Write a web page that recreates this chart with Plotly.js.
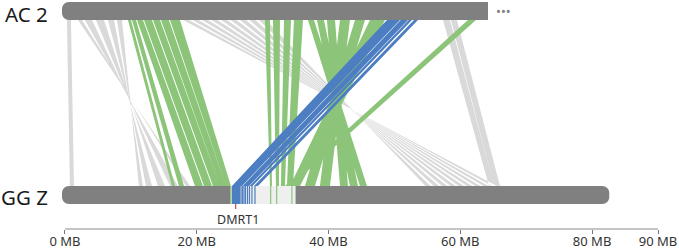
<!DOCTYPE html>
<html><head><meta charset="utf-8">
<script src="https://cdn.plot.ly/plotly-3.0.1.min.js"></script>
<style>html,body{margin:0;padding:0;background:#fff;}#chart{width:679px;height:249px;}</style>
</head><body><div id="chart"></div>
<script>
// ---- data (MB) ----
const tickValues = [0, 20, 40, 60, 80, 90];
const tickLabels = ['0 MB', '20 MB', '40 MB', '60 MB', '80 MB', '90 MB'];
const chromNames = ['AC 2', 'GG Z'];
const chromStart = [-0.45, -0.45];
const chromEnd = [64.2, 82.6];
const highlightRange = [25.1, 35.0];
const markerNames = ['DMRT1'];
const markerPos = [25.9];

const linkGroup = [
  'other','other','other','other','other','other',
  'other','other','other','other','other','other','other','other','other',
  'other','other',
  'z','z','z','z','z','z','z','z','z','z','z','z','z','z','z','z','z','z',
  'dmrt','dmrt','dmrt','dmrt'
];
const acStart = [0.30, 1.97, 3.04, 4.70, 6.53, 7.89,
  17.91, 19.35, 20.79, 22.23, 23.68, 25.12, 26.56, 28.00, 29.44,
  57.37, 58.58,
  9.56, 10.17, 10.93, 11.99, 13.36, 14.57, 15.94, 30.35, 31.57, 33.24, 34.75, 36.88, 38.25, 39.76, 41.74, 44.01, 46.29, 61.16,
  48.87, 50.95, 52.17, 52.97];
const acEnd = [0.91, 2.58, 4.10, 5.92, 7.44, 8.65,
  18.82, 20.26, 21.70, 23.14, 24.59, 26.03, 27.47, 28.91, 30.50,
  58.43, 59.49,
  10.02, 10.78, 11.84, 13.20, 14.42, 15.78, 17.45, 31.11, 32.63, 34.30, 36.12, 37.79, 39.31, 40.98, 43.25, 45.53, 48.57, 62.38,
  50.84, 52.06, 52.66, 53.57];
const ggStart = [0.76, 18.97, 17.15, 15.18, 13.20, 11.84,
  65.56, 64.30, 63.04, 61.78, 60.53, 59.27, 58.01, 56.75, 55.49,
  64.35, 65.11,
  16.24, 17.30, 19.73, 21.10, 22.46, 23.52, 24.43, 31.11, 32.02, 32.78, 33.69, 44.77, 43.25, 41.74, 38.70, 36.42, 34.15, 33.39,
  25.35, 26.95, 28.02, 28.68];
const ggEnd = [1.37, 18.36, 15.94, 14.11, 12.29, 11.23,
  64.81, 63.55, 62.29, 61.03, 59.77, 58.51, 57.25, 55.99, 54.73,
  65.11, 66.02,
  16.69, 18.06, 20.94, 22.31, 23.52, 24.43, 25.19, 31.42, 32.48, 33.39, 34.60, 45.83, 44.47, 42.95, 40.22, 37.94, 35.67, 34.30,
  26.86, 27.93, 28.46, 29.29];
const footBlue = [25.42, 25.57, 25.72, 25.88, 26.03, 26.18, 26.33, 26.48, 26.71, 26.94, 27.17, 27.39, 27.70, 28.00, 28.38, 28.84];
const footGreen = [25.18, 31.22, 32.13, 34.45];

// ---- style / layout ----
const colors = { other: '#d9d9d9', z: '#8cc57a', dmrt: '#4d7ec1' };
const groupOrder = ['other', 'z', 'dmrt'];
const FONT = 'Noto Sans, Open Sans, sans-serif';
const W = 679, H = 249, ML = 61, MR = 21, MT = 0, MB = 20;
const XMIN = -0.6, XMAX = 90;
const pxPerMB = (W - ML - MR) / (XMAX - XMIN);
const TOP = [2, 20], BOT = [186, 204]; // track y extents (plot px units)
const RX = 7 / pxPerMB, RY = 7;

const traces = groupOrder.map(g => {
  const xs = [], ys = [];
  linkGroup.forEach((lg, i) => {
    if (lg !== g) return;
    xs.push(acStart[i], acEnd[i], ggEnd[i], ggStart[i], acStart[i], null);
    ys.push(TOP[1], TOP[1], BOT[0], BOT[0], TOP[1], null);
  });
  return { type: 'scatter', mode: 'lines', x: xs, y: ys, fill: 'toself', fillcolor: colors[g],
    line: { width: 0, color: colors[g] }, hoverinfo: 'skip', showlegend: false };
});

function barPath(x0, x1, y0, y1, rl, rr) {
  const k = 0.5523, rxL = rl ? RX : 0, rxR = rr ? RX : 0, ry = RY;
  let p = `M${x0 + rxL},${y0} L${x1 - rxR},${y0}`;
  if (rr) p += ` C${x1 - rxR + k * rxR},${y0} ${x1},${y0 + ry - k * ry} ${x1},${y0 + ry} L${x1},${y1 - ry} C${x1},${y1 - ry + k * ry} ${x1 - rxR + k * rxR},${y1} ${x1 - rxR},${y1}`;
  else p += ` L${x1},${y0} L${x1},${y1}`;
  p += ` L${x0 + rxL},${y1}`;
  if (rl) p += ` C${x0 + rxL - k * rxL},${y1} ${x0},${y1 - ry + k * ry} ${x0},${y1 - ry} L${x0},${y0 + ry} C${x0},${y0 + ry - k * ry} ${x0 + rxL - k * rxL},${y0} ${x0 + rxL},${y0}`;
  else p += ` L${x0},${y1} L${x0},${y0}`;
  return p + ' Z';
}

const shapes = [];
shapes.push({ type: 'path', xref: 'x', yref: 'y', layer: 'above', path: barPath(chromStart[0], chromEnd[0], TOP[0], TOP[1], true, false), fillcolor: '#808080', line: { width: 0 } });
shapes.push({ type: 'path', xref: 'x', yref: 'y', layer: 'above', path: barPath(chromStart[1], chromEnd[1], BOT[0], BOT[1], true, true), fillcolor: '#808080', line: { width: 0 } });
shapes.push({ type: 'rect', xref: 'x', yref: 'y', layer: 'above', x0: highlightRange[0], x1: highlightRange[1], y0: BOT[0], y1: BOT[1], fillcolor: '#efefef', line: { width: 0 } });
footBlue.forEach(v => shapes.push({ type: 'line', xref: 'x', yref: 'y', layer: 'above', x0: v, x1: v, y0: BOT[0], y1: BOT[1], line: { color: colors.dmrt, width: 1.2 } }));
footGreen.forEach(v => shapes.push({ type: 'line', xref: 'x', yref: 'y', layer: 'above', x0: v, x1: v, y0: BOT[0], y1: BOT[1], line: { color: colors.z, width: 1.2 } }));
markerPos.forEach(v => shapes.push({ type: 'line', xref: 'x', yref: 'y', layer: 'above', x0: v, x1: v, y0: BOT[1], y1: BOT[1] + 5, line: { color: '#c9504c', width: 1.3 } }));
shapes.push({ type: 'line', xref: 'x', yref: 'paper', x0: 0, x1: XMAX, y0: 0, y1: 0, line: { color: '#8a8a8a', width: 1 } });

const annotations = [
  { text: chromNames[0], xref: 'paper', yref: 'y', x: (49 - ML) / (W - ML - MR), y: 13.5, xanchor: 'right', yanchor: 'middle', borderpad: 0, showarrow: false, font: { family: FONT, size: 20.5, color: '#1a1a1a' } },
  { text: chromNames[1], xref: 'paper', yref: 'y', x: (49 - ML) / (W - ML - MR), y: 196.5, xanchor: 'right', yanchor: 'middle', borderpad: 0, showarrow: false, font: { family: FONT, size: 20.5, color: '#1a1a1a' } },
  { text: '•••', xref: 'x', yref: 'y', x: chromEnd[0] + 0.9, y: 11, xanchor: 'left', yanchor: 'middle', showarrow: false, font: { family: FONT, size: 13, color: '#808080' } },
];
markerNames.forEach((n, i) => annotations.push({ text: n, xref: 'x', yref: 'y', x: markerPos[i] + 0.3, y: 219, xanchor: 'center', yanchor: 'middle', showarrow: false, font: { family: FONT, size: 12.5, color: '#333' } }));

const layout = {
  width: W, height: H, margin: { l: ML, r: MR, t: MT, b: MB, pad: 0 },
  paper_bgcolor: '#fff', plot_bgcolor: '#fff', showlegend: false,
  xaxis: { range: [XMIN, XMAX], showgrid: false, zeroline: false, showline: false, ticks: 'outside', ticklen: 4, tickwidth: 1, tickcolor: '#777',
    ticklabelstandoff: -4,
    tickvals: tickValues, ticktext: tickLabels, tickfont: { family: FONT, size: 13, color: '#333' }, fixedrange: true },
  yaxis: { range: [H - MB - MT, 0], visible: false, showgrid: false, zeroline: false, fixedrange: true },
  shapes, annotations
};
Plotly.newPlot('chart', traces, layout, { displayModeBar: false, staticPlot: true });
</script></body></html>
